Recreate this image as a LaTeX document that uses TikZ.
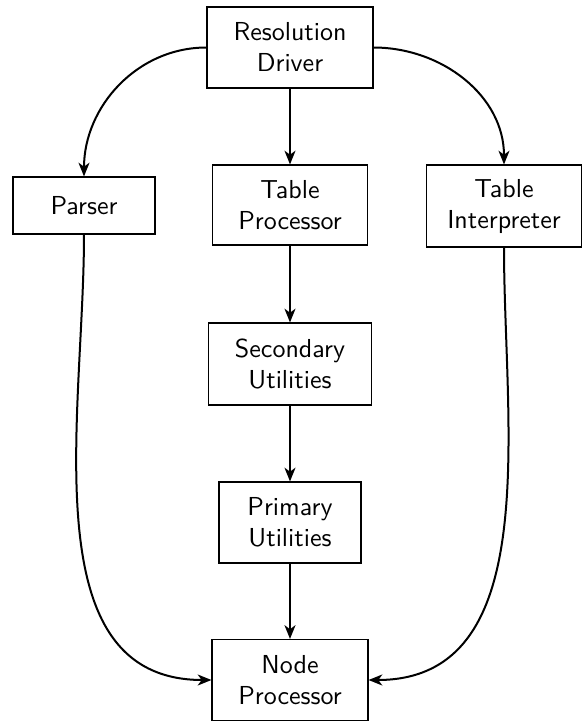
\documentclass[tikz,border=0pt]{standalone}
\usetikzlibrary{arrows.meta}
\begin{document}
\begin{tikzpicture}[x=0.4pt,y=-0.4pt,
  box/.style={draw,line width=0.45pt,rectangle,inner sep=0pt,align=center,
    font=\sffamily\fontsize{10.4}{12.4}\selectfont},
  conn/.style={line width=0.8pt,-{Stealth[length=5.5pt,width=4.4pt,inset=1.6pt]}}]
\useasboundingbox (0,0) rectangle (582,721);
\node[box,minimum width=66.4pt,minimum height=32.4pt] (driver) at (290,47.5) {Resolution\\Driver};
\node[box,minimum width=62pt,minimum height=32pt] (tproc) at (290,205) {Table\\Processor};
\node[box,minimum width=56.8pt,minimum height=22.8pt] (parser) at (84,205.5) {Parser};
\node[box,minimum width=62pt,minimum height=32.8pt] (interp) at (504,206) {Table\\Interpreter};
\node[box,minimum width=65.2pt,minimum height=32.8pt] (sec) at (290,364) {Secondary\\Utilities};
\node[box,minimum width=56.8pt,minimum height=32.4pt] (prim) at (290,522.5) {Primary\\Utilities};
\node[box,minimum width=62.4pt,minimum height=32.4pt] (nodep) at (290,680) {Node\\Processor};
\draw[conn] (driver) -- (tproc);
\draw[conn] (tproc) -- (sec);
\draw[conn] (sec) -- (prim);
\draw[conn] (prim) -- (nodep);
\draw[conn] (driver.west) to[out=180,in=90] (parser.north);
\draw[conn] (driver.east) to[out=0,in=90] (interp.north);
\draw[conn] (parser.south) to[out=-90,in=180] (nodep.west);
\draw[conn] (interp.south) to[out=-90,in=0] (nodep.east);
\end{tikzpicture}
\end{document}
